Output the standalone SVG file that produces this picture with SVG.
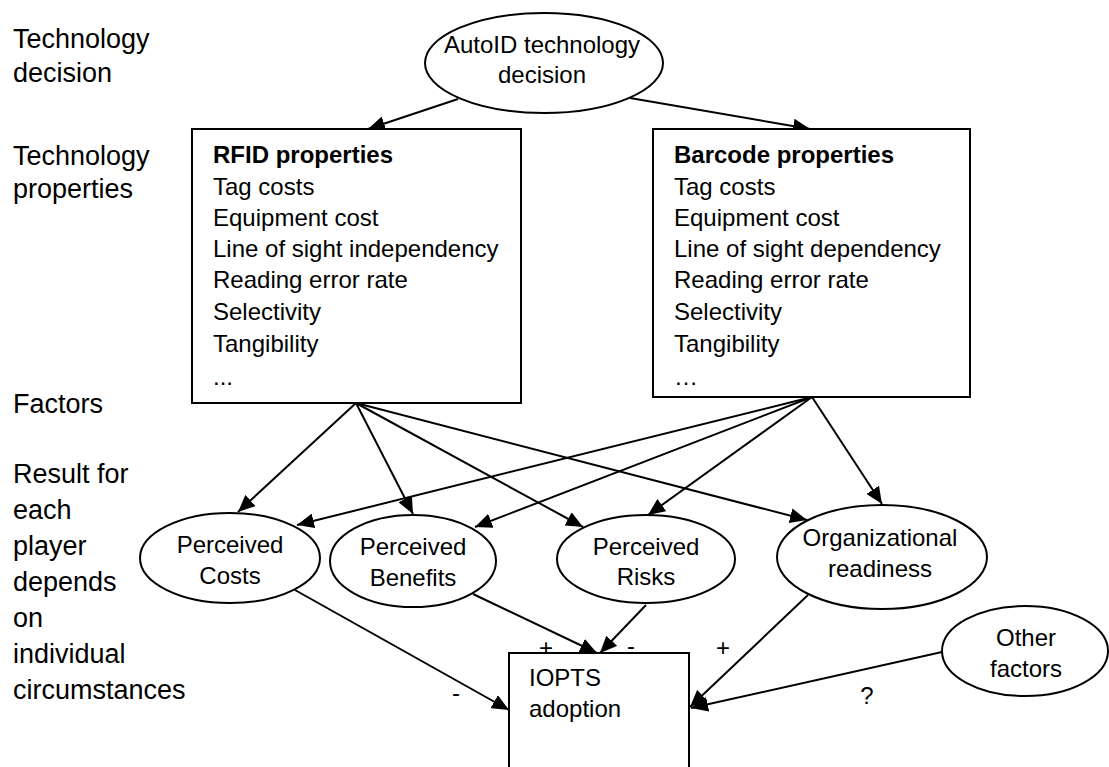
<svg xmlns="http://www.w3.org/2000/svg" width="1109" height="767" viewBox="0 0 1109 767">
<style>
text{font-family:"Liberation Sans",Arial,sans-serif;font-size:24px;fill:#000}
.lbl{font-size:27px}
.c{text-anchor:middle}
.b{font-weight:bold}
.shape{fill:#fff;stroke:#000;stroke-width:2}
.edge{fill:none;stroke:#000;stroke-width:2;marker-end:url(#ah)}
</style>
<defs>
<marker id="ah" markerUnits="userSpaceOnUse" markerWidth="18" markerHeight="15" refX="17" refY="7.5" orient="auto">
<path d="M0,0 L17,7.5 L0,15 z" fill="#000"/>
</marker>
</defs>
<rect width="1109" height="767" fill="#fff"/>
<g id="row-labels">
<text class="lbl" x="13" y="48">Technology</text>
<text class="lbl" x="13" y="82">decision</text>
<text class="lbl" x="13" y="165">Technology</text>
<text class="lbl" x="13" y="198">properties</text>
<text class="lbl" x="13" y="413">Factors</text>
<text class="lbl" x="13" y="483">Result for</text>
<text class="lbl" x="13" y="519">each</text>
<text class="lbl" x="13" y="555">player</text>
<text class="lbl" x="13" y="591">depends</text>
<text class="lbl" x="13" y="627">on</text>
<text class="lbl" x="13" y="663">individual</text>
<text class="lbl" x="13" y="699">circumstances</text>
</g>
<g id="connectors">
<line class="edge" x1="458" y1="99" x2="368" y2="129"/>
<line class="edge" x1="630" y1="98" x2="810" y2="129"/>
<line class="edge" x1="356" y1="403" x2="238" y2="512"/>
<line class="edge" x1="356" y1="403" x2="413" y2="514"/>
<line class="edge" x1="356" y1="403" x2="583" y2="527"/>
<line class="edge" x1="356" y1="403" x2="807" y2="520"/>
<line class="edge" x1="812" y1="397" x2="297" y2="525"/>
<line class="edge" x1="812" y1="397" x2="475" y2="527"/>
<line class="edge" x1="812" y1="397" x2="648" y2="515"/>
<line class="edge" x1="812" y1="397" x2="882" y2="504"/>
<line class="edge" x1="295" y1="590" x2="509" y2="710"/>
<line class="edge" x1="473" y1="594" x2="597" y2="653"/>
<line class="edge" x1="646" y1="605" x2="600" y2="653"/>
<line class="edge" x1="808" y1="595" x2="690" y2="707"/>
<line class="edge" x1="942" y1="652" x2="691" y2="708"/>
<text class="c" x="456" y="701">-</text>
<text class="c" x="546" y="656">+</text>
<text class="c" x="631" y="654">-</text>
<text class="c" x="723" y="656">+</text>
<text class="c" x="867" y="704">?</text>
</g>
<g id="autoid">
<ellipse class="shape" cx="544" cy="63" rx="119" ry="50"/>
<text class="c" x="542" y="53">AutoID technology</text>
<text class="c" x="542" y="83">decision</text>
</g>
<g id="rfid">
<rect class="shape" x="192" y="129" width="329" height="274"/>
<text class="b" x="213" y="163">RFID properties</text>
<text x="213" y="195">Tag costs</text>
<text x="213" y="226">Equipment cost</text>
<text x="213" y="257">Line of sight independency</text>
<text x="213" y="288">Reading error rate</text>
<text x="213" y="320">Selectivity</text>
<text x="213" y="352">Tangibility</text>
<text x="213" y="385">...</text>
</g>
<g id="barcode">
<rect class="shape" x="653" y="129" width="317" height="268"/>
<text class="b" x="674" y="163">Barcode properties</text>
<text x="674" y="195">Tag costs</text>
<text x="674" y="226">Equipment cost</text>
<text x="674" y="257">Line of sight dependency</text>
<text x="674" y="288">Reading error rate</text>
<text x="674" y="320">Selectivity</text>
<text x="674" y="352">Tangibility</text>
<text x="674" y="385">…</text>
</g>
<g id="costs">
<ellipse class="shape" cx="230" cy="558" rx="90" ry="45"/>
<text class="c" x="230" y="553">Perceived</text>
<text class="c" x="230" y="584">Costs</text>
</g>
<g id="benefits">
<ellipse class="shape" cx="413" cy="561" rx="83" ry="46"/>
<text class="c" x="413" y="555">Perceived</text>
<text class="c" x="413" y="586">Benefits</text>
</g>
<g id="risks">
<ellipse class="shape" cx="646" cy="559" rx="89" ry="44"/>
<text class="c" x="646" y="555">Perceived</text>
<text class="c" x="646" y="585">Risks</text>
</g>
<g id="readiness">
<ellipse class="shape" cx="882" cy="557" rx="105" ry="52"/>
<text class="c" x="880" y="546">Organizational</text>
<text class="c" x="880" y="577">readiness</text>
</g>
<g id="other">
<ellipse class="shape" cx="1025" cy="651" rx="83" ry="45"/>
<text class="c" x="1026" y="646">Other</text>
<text class="c" x="1026" y="677">factors</text>
</g>
<g id="iopts">
<rect class="shape" x="509" y="653" width="180" height="120"/>
<text x="529" y="686">IOPTS</text>
<text x="529" y="717">adoption</text>
</g>
</svg>
